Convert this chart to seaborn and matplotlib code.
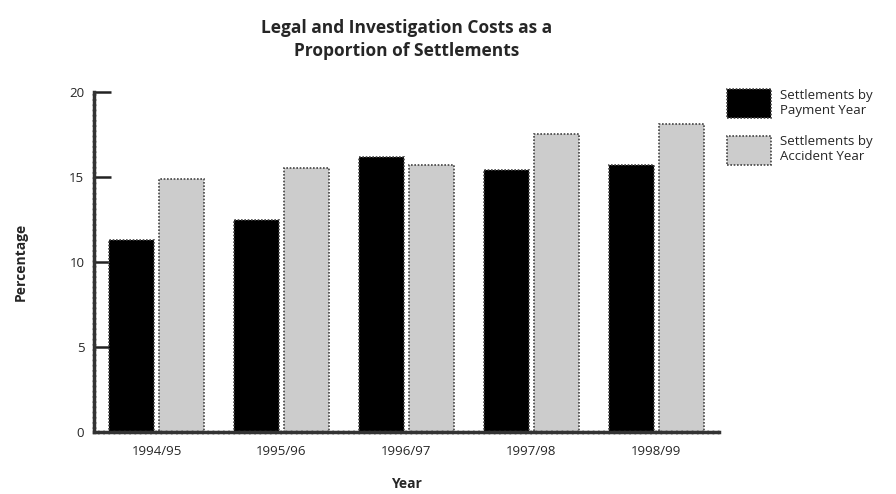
import numpy as np
import pandas as pd
import matplotlib
matplotlib.use("Agg")
import matplotlib.pyplot as plt
import seaborn as sns

# values
years = ["1994/95", "1995/96", "1996/97", "1997/98", "1998/99"]
payment_year = [11.3, 12.5, 16.2, 15.4, 15.7]
accident_year = [14.9, 15.5, 15.7, 17.5, 18.1]
series = ["Settlements by\nPayment Year", "Settlements by\nAccident Year"]
colors = ["black", "#cccccc"]

df = pd.DataFrame({
    "Year": years * 2,
    "Percentage": payment_year + accident_year,
    "Series": [series[0]] * len(years) + [series[1]] * len(years),
})

sns.set_theme(style="white")
plt.rcParams["font.family"] = ["Open Sans", "DejaVu Sans"]

fig = plt.figure(figsize=(8.96, 4.94), dpi=100)
ax = fig.add_axes([0.105, 0.125, 0.697, 0.689])

sns.barplot(data=df, x="Year", y="Percentage", hue="Series", palette=colors,
            width=0.8, gap=0.1, edgecolor="#444444", linewidth=1.2,
            linestyle=(0, (1, 1)), ax=ax)

ax.set_xlim(-0.5, 4.5)
ax.set_ylim(0, 20)
ax.set_yticks([0, 5, 10, 15, 20])
ax.tick_params(axis="y", left=True, direction="in", length=12, width=1.8,
               color="#222222", labelsize=9.5, pad=7)
ax.tick_params(axis="x", bottom=False, length=0, labelsize=9.5, pad=9)

for side in ["top", "right"]:
    ax.spines[side].set_visible(False)
for side in ["left", "bottom"]:
    ax.spines[side].set_color("#333333")
    ax.spines[side].set_linewidth(2.5)
    ax.spines[side].set_linestyle((0, (1, 0.5)))

ax.set_xlabel("Year", fontsize=10, fontweight="bold", labelpad=14)
ax.set_ylabel("Percentage", fontsize=10, fontweight="bold", labelpad=30)
ax.set_title("Legal and Investigation Costs as a\nProportion of Settlements",
             fontsize=12.5, fontweight="bold", pad=26, linespacing=1.35)

ax.legend(loc="upper left", bbox_to_anchor=(1.005, 1.025), frameon=False,
          fontsize=9.5, handlelength=3.3, handleheight=3.0, labelspacing=1.3,
          handletextpad=0.7, borderaxespad=0)

fig.savefig("out.png", dpi=100)
